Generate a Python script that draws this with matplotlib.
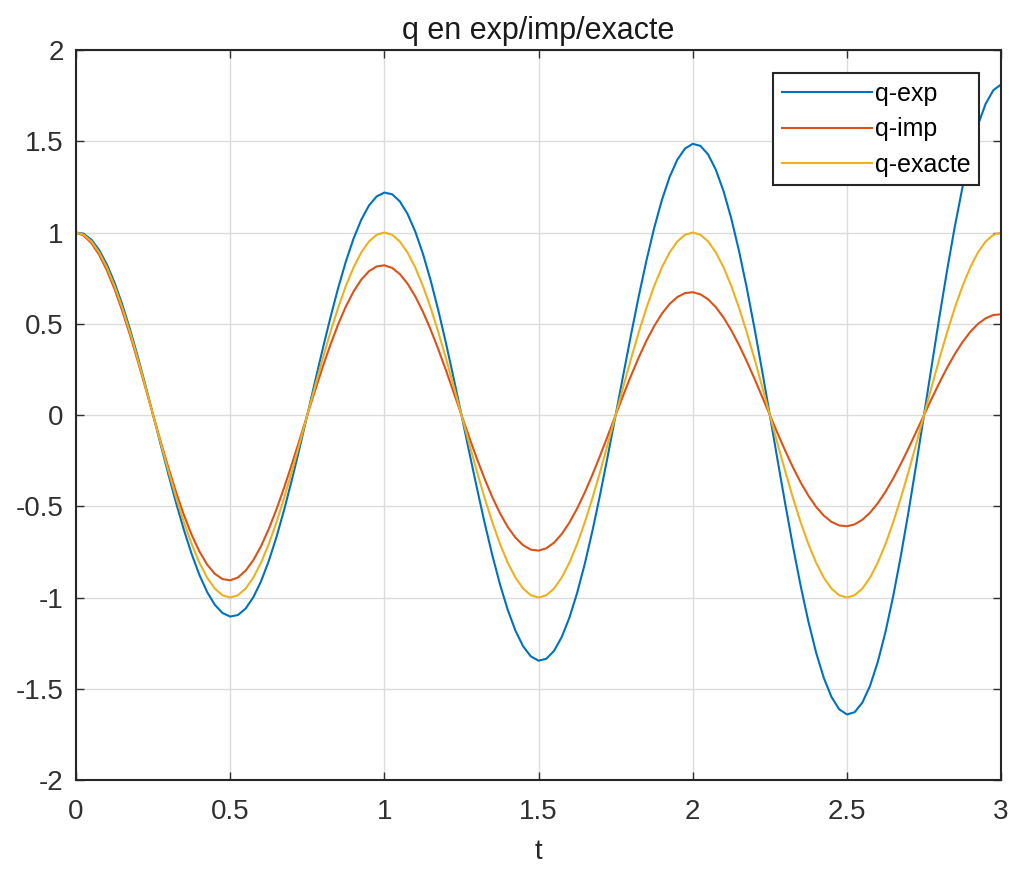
import numpy as np
import matplotlib
matplotlib.use('Agg')
import matplotlib.pyplot as plt

plt.rcParams['font.family'] = ['Liberation Sans', 'DejaVu Sans']
plt.rcParams['axes.unicode_minus'] = False

# time samples, step 0.025
t = np.linspace(0, 3, 121)

q_exp = [1.0000, 0.9926, 0.9606, 0.9043, 0.8252, 0.7248, 0.6055, 0.4700, 0.3215, 0.1635,
         0.0000, -0.1652, -0.3279, -0.4842, -0.6300, -0.7616, -0.8757, -0.9692, -1.0397, -1.0851,
         -1.1041, -1.0959, -1.0606, -0.9984, -0.9110, -0.8002, -0.6686, -0.5189, -0.3549, -0.1805,
         0.0000, 0.1823, 0.3620, 0.5346, 0.6955, 0.8409, 0.9668, 1.0701, 1.1480, 1.1980,
         1.2190, 1.2100, 1.1710, 1.1023, 1.0059, 0.8835, 0.7381, 0.5729, 0.3919, 0.1993,
         0.0000, -0.2014, -0.3997, -0.5902, -0.7680, -0.9284, -1.0675, -1.1815, -1.2674, -1.3227,
         -1.3459, -1.3359, -1.2929, -1.2170, -1.1105, -0.9754, -0.8150, -0.6325, -0.4326, -0.2200,
         0.0000, 0.2222, 0.4413, 0.6517, 0.8478, 1.0251, 1.1785, 1.3045, 1.3994, 1.4604,
         1.4860, 1.4750, 1.4275, 1.3438, 1.2262, 1.0771, 0.8998, 0.6984, 0.4777, 0.2430,
         0.0000, -0.2455, -0.4873, -0.7195, -0.9362, -1.1317, -1.3013, -1.4402, -1.5450, -1.6125,
         -1.6407, -1.6285, -1.5761, -1.4836, -1.3537, -1.1891, -0.9935, -0.7711, -0.5274, -0.2682,
         0.0000, 0.2709, 0.5379, 0.7944, 1.0335, 1.2496, 1.4367, 1.5902, 1.7059, 1.7802,
         1.8114]

q_imp = [1.0000, 0.9828, 0.9417, 0.8779, 0.7931, 0.6898, 0.5706, 0.4385, 0.2970, 0.1496,
         0.0000, -0.1481, -0.2912, -0.4257, -0.5484, -0.6565, -0.7474, -0.8191, -0.8700, -0.8990,
         -0.9057, -0.8902, -0.8529, -0.7951, -0.7184, -0.6248, -0.5168, -0.3972, -0.2690, -0.1355,
         0.0000, 0.1341, 0.2637, 0.3856, 0.4967, 0.5946, 0.6770, 0.7419, 0.7880, 0.8143,
         0.8204, 0.8063, 0.7726, 0.7202, 0.6507, 0.5659, 0.4681, 0.3597, 0.2437, 0.1227,
         0.0000, -0.1215, -0.2389, -0.3492, -0.4499, -0.5386, -0.6132, -0.6720, -0.7137, -0.7375,
         -0.7430, -0.7303, -0.6997, -0.6523, -0.5894, -0.5126, -0.4240, -0.3259, -0.2207, -0.1112,
         0.0000, 0.1100, 0.2163, 0.3163, 0.4075, 0.4878, 0.5554, 0.6087, 0.6465, 0.6681,
         0.6731, 0.6614, 0.6338, 0.5908, 0.5338, 0.4642, 0.3840, 0.2951, 0.1999, 0.1007,
         0.0000, -0.0997, -0.1960, -0.2865, -0.3691, -0.4418, -0.5030, -0.5513, -0.5855, -0.6050,
         -0.6095, -0.5991, -0.5740, -0.5351, -0.4835, -0.4205, -0.3478, -0.2673, -0.1810, -0.0912,
         0.0000, 0.0902, 0.1775, 0.2595, 0.3343, 0.4002, 0.4556, 0.4993, 0.5303, 0.5480,
         0.5521]

q_exacte = [1.0000, 0.9877, 0.9511, 0.8910, 0.8090, 0.7071, 0.5878, 0.4540, 0.3090, 0.1564,
            0.0000, -0.1564, -0.3090, -0.4540, -0.5878, -0.7071, -0.8090, -0.8910, -0.9511, -0.9877,
            -1.0000, -0.9877, -0.9511, -0.8910, -0.8090, -0.7071, -0.5878, -0.4540, -0.3090, -0.1564,
            0.0000, 0.1564, 0.3090, 0.4540, 0.5878, 0.7071, 0.8090, 0.8910, 0.9511, 0.9877,
            1.0000, 0.9877, 0.9511, 0.8910, 0.8090, 0.7071, 0.5878, 0.4540, 0.3090, 0.1564,
            0.0000, -0.1564, -0.3090, -0.4540, -0.5878, -0.7071, -0.8090, -0.8910, -0.9511, -0.9877,
            -1.0000, -0.9877, -0.9511, -0.8910, -0.8090, -0.7071, -0.5878, -0.4540, -0.3090, -0.1564,
            0.0000, 0.1564, 0.3090, 0.4540, 0.5878, 0.7071, 0.8090, 0.8910, 0.9511, 0.9877,
            1.0000, 0.9877, 0.9511, 0.8910, 0.8090, 0.7071, 0.5878, 0.4540, 0.3090, 0.1564,
            0.0000, -0.1564, -0.3090, -0.4540, -0.5878, -0.7071, -0.8090, -0.8910, -0.9511, -0.9877,
            -1.0000, -0.9877, -0.9511, -0.8910, -0.8090, -0.7071, -0.5878, -0.4540, -0.3090, -0.1564,
            0.0000, 0.1564, 0.3090, 0.4540, 0.5878, 0.7071, 0.8090, 0.8910, 0.9511, 0.9877,
            1.0000]

x_ticks = [0, 0.5, 1, 1.5, 2, 2.5, 3]
x_labels = ['0', '0.5', '1', '1.5', '2', '2.5', '3']
y_ticks = [-2, -1.5, -1, -0.5, 0, 0.5, 1, 1.5, 2]
y_labels = ['-2', '-1.5', '-1', '-0.5', '0', '0.5', '1', '1.5', '2']

fig = plt.figure(figsize=(10.11, 8.69), dpi=100)
ax = fig.add_axes([0.0752, 0.1024, 0.915, 0.840])

ax.plot(t, q_exp, color='#0072BD', lw=1.5, label='q-exp')
ax.plot(t, q_imp, color='#D95319', lw=1.5, label='q-imp')
ax.plot(t, q_exacte, color='#EDB120', lw=1.5, label='q-exacte')

ax.set_xlim(0, 3)
ax.set_ylim(-2, 2)
ax.set_xticks(x_ticks)
ax.set_xticklabels(x_labels)
ax.set_yticks(y_ticks)
ax.set_yticklabels(y_labels)
ax.tick_params(direction='in', top=True, right=True, labelsize=20,
               colors='#303030', length=6, width=1)
ax.tick_params(axis='x', pad=13.5)
ax.tick_params(axis='y', pad=9)
ax.grid(True, color='#dcdcdc', lw=1)
for s in ax.spines.values():
    s.set_color('#262626')
    s.set_linewidth(1.5)

ax.set_title('q en exp/imp/exacte', fontsize=22, color='#1a1a1a', pad=8)
ax.set_xlabel('t', fontsize=20, color='#262626', labelpad=10)

leg = ax.legend(loc='upper right', bbox_to_anchor=(0.976, 0.968), borderaxespad=0,
                fontsize=18, handlelength=3.6, handletextpad=0.1, labelspacing=0.45,
                fancybox=False, framealpha=1, edgecolor='#262626', borderpad=0.35)
leg.get_frame().set_linewidth(1.5)

plt.savefig('out.png', dpi=100)
plt.close()
